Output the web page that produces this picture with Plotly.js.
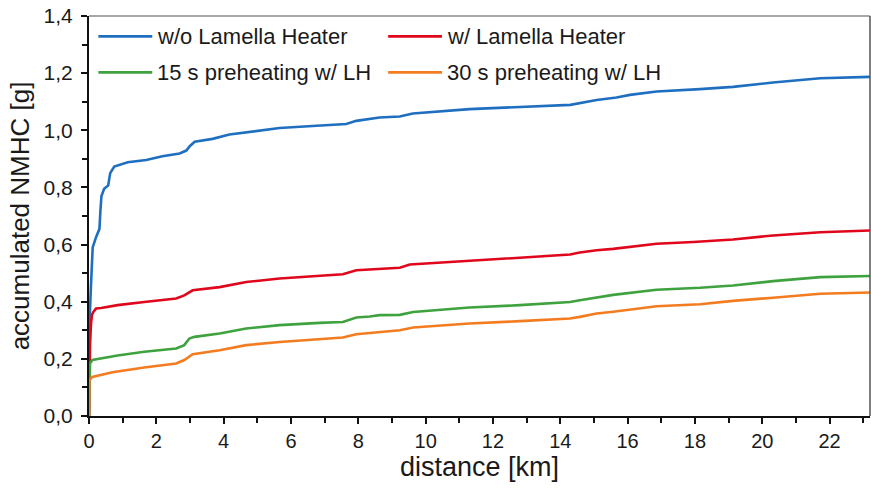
<!DOCTYPE html>
<html>
<head>
<meta charset="utf-8">
<script src="https://cdn.plot.ly/plotly-3.0.1.min.js"></script>
<style>html,body{margin:0;padding:0;background:#fff;}#chart{width:871px;height:493px;}</style>
</head>
<body>
<div id="chart"></div>
<script>
// Data (distance in km, accumulated NMHC in g)
const seriesNames = ["w/o Lamella Heater", "w/ Lamella Heater", "15 s preheating w/ LH", "30 s preheating w/ LH"];

const blueX = [0, 0.01, 0.03, 0.06, 0.11, 0.21, 0.31, 0.34, 0.37, 0.45, 0.57, 0.63, 0.75, 1.15, 1.7, 2.18, 2.69, 2.89, 3.0, 3.14, 3.67, 4.17, 4.67, 5.15, 5.66, 6.64, 7.64, 7.94, 8.34, 8.63, 9.23, 9.62, 11.3, 13.1, 14.3, 15.08, 15.67, 16.07, 16.86, 18.15, 19.13, 20.32, 21.72, 23.2];
const blueY = [0, 0.30, 0.37, 0.46, 0.59, 0.626, 0.655, 0.72, 0.77, 0.795, 0.807, 0.85, 0.873, 0.888, 0.896, 0.909, 0.919, 0.929, 0.945, 0.96, 0.97, 0.985, 0.993, 1.002, 1.008, 1.015, 1.022, 1.033, 1.041, 1.045, 1.048, 1.059, 1.074, 1.082, 1.089, 1.106, 1.115, 1.124, 1.136, 1.144, 1.152, 1.167, 1.182, 1.187];

const redX = [0, 0.01, 0.03, 0.06, 0.09, 0.14, 0.21, 0.36, 0.70, 0.85, 1.64, 2.59, 2.83, 3.08, 3.88, 4.67, 5.66, 6.65, 7.54, 7.94, 8.34, 8.63, 9.23, 9.53, 10.8, 12.3, 14.29, 14.58, 15.08, 15.57, 16.86, 17.95, 19.13, 20.32, 21.72, 23.2];
const redY = [0, 0.17, 0.25, 0.324, 0.355, 0.366, 0.376, 0.378, 0.384, 0.388, 0.399, 0.411, 0.422, 0.44, 0.451, 0.469, 0.481, 0.489, 0.496, 0.51, 0.512, 0.516, 0.519, 0.53, 0.539, 0.551, 0.565, 0.572, 0.58, 0.585, 0.603, 0.609, 0.618, 0.632, 0.643, 0.649];

const greenX = [0, 0.01, 0.03, 0.1, 0.7, 0.85, 1.64, 2.59, 2.83, 2.98, 3.13, 3.88, 4.67, 5.66, 6.85, 7.54, 7.94, 8.34, 8.63, 9.23, 9.63, 11.3, 12.8, 14.29, 14.58, 15.08, 15.57, 16.86, 18.15, 19.13, 20.32, 21.72, 23.2];
const greenY = [0, 0.08, 0.184, 0.196, 0.21, 0.212, 0.225, 0.236, 0.248, 0.271, 0.277, 0.289, 0.306, 0.318, 0.326, 0.329, 0.345, 0.348, 0.353, 0.354, 0.364, 0.38, 0.388, 0.399, 0.405, 0.414, 0.424, 0.442, 0.449, 0.457, 0.472, 0.486, 0.49];

const orangeX = [0, 0.01, 0.1, 0.7, 1.64, 2.59, 2.83, 3.08, 3.88, 4.67, 5.66, 6.85, 7.54, 7.94, 8.34, 8.63, 9.23, 9.63, 11.3, 12.8, 14.29, 14.58, 15.08, 15.57, 16.86, 18.15, 19.13, 20.32, 21.72, 23.2];
const orangeY = [0, 0.126, 0.137, 0.153, 0.17, 0.184, 0.196, 0.216, 0.23, 0.248, 0.259, 0.268, 0.275, 0.286, 0.291, 0.294, 0.300, 0.31, 0.324, 0.332, 0.341, 0.347, 0.359, 0.365, 0.384, 0.391, 0.403, 0.414, 0.428, 0.432];

const colors = ["#1f6fc1", "#e0071c", "#3ea33e", "#f47c20"];
const xs = [blueX, redX, greenX, orangeX];
const ys = [blueY, redY, greenY, orangeY];

const FONT = "Liberation Sans, Arial, sans-serif";
const TXT = "#1a1a1a";

const traces = seriesNames.map((n, i) => ({
  type: "scatter", mode: "lines", name: n,
  x: xs[i], y: ys[i],
  line: {color: colors[i], width: 2.6, shape: "linear"},
  hoverinfo: "skip"
}));

// Manual legend (paper coordinates), 2 columns x 2 rows
const legPos = [[0.012, 0.949], [0.383, 0.949], [0.012, 0.859], [0.383, 0.859]];
const legLen = 0.069;
const shapes = [
  // grey top and right frame
  {type: "line", xref: "paper", yref: "paper", x0: 0, x1: 1, y0: 1, y1: 1, line: {color: "#8a8a8a", width: 1.5}},
  {type: "line", xref: "paper", yref: "paper", x0: 1, x1: 1, y0: 0, y1: 1, line: {color: "#555", width: 1.5}}
];
const annotations = [];
seriesNames.forEach((n, i) => {
  const [px, py] = legPos[i];
  shapes.push({type: "line", xref: "paper", yref: "paper", x0: px, x1: px + legLen, y0: py, y1: py,
    line: {color: colors[i], width: 2.6}});
  annotations.push({xref: "paper", yref: "paper", x: px + legLen + 0.004, y: py, xanchor: "left", yanchor: "middle",
    text: n, showarrow: false, font: {family: FONT, size: 22, color: TXT}});
});

const layout = {
  width: 871, height: 493,
  margin: {l: 89, r: 1, t: 16, b: 77, pad: 0},
  paper_bgcolor: "#fff", plot_bgcolor: "#fff",
  separators: ",.",
  showlegend: false,
  font: {family: FONT, color: TXT},
  xaxis: {
    range: [0, 23.2], dtick: 2, tick0: 0,
    showgrid: false, zeroline: false,
    showline: true, linecolor: "#111", linewidth: 2,
    ticks: "outside", ticklen: 6, tickwidth: 2, tickcolor: "#111",
    minor: {dtick: 1, tick0: 0, ticks: "outside", ticklen: 5, tickwidth: 2, tickcolor: "#111", showgrid: false},
    tickfont: {family: FONT, size: 20, color: TXT},
    title: {text: "distance [km]", font: {family: FONT, size: 27, color: TXT}, standoff: 6}
  },
  yaxis: {
    range: [0, 1.4], dtick: 0.2, tick0: 0, tickformat: ".1f",
    showgrid: false, zeroline: false,
    showline: true, linecolor: "#111", linewidth: 2,
    ticks: "outside", ticklen: 6, tickwidth: 2, tickcolor: "#111",
    minor: {dtick: 0.1, tick0: 0, ticks: "outside", ticklen: 5, tickwidth: 2, tickcolor: "#111", showgrid: false},
    tickfont: {family: FONT, size: 21, color: TXT},
    ticklabelstandoff: 4,
    title: {text: "accumulated NMHC [g]", font: {family: FONT, size: 26, color: TXT}, standoff: 6}
  },
  shapes: shapes,
  annotations: annotations
};

Plotly.newPlot("chart", traces, layout, {displayModeBar: false, staticPlot: true});
</script>
</body>
</html>
